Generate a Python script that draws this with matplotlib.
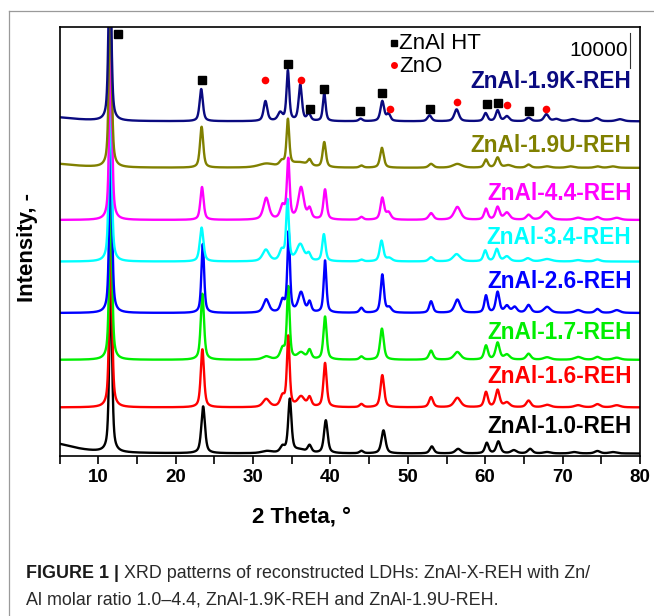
import numpy as np
import matplotlib
matplotlib.use("Agg")
import matplotlib.pyplot as plt
from matplotlib.lines import Line2D

plt.rcParams['font.family'] = ['Liberation Sans', 'DejaVu Sans']

# ---------------- data (2theta in degrees, intensities in kcounts) ----------------
two_theta_range = (5, 80)

# peaks: (2theta, height [kcounts], FWHM [deg]); the (003) peak near 11.6 deg is off scale
peaks_10 = [(3.0, 3.4, 8.0), (11.6, 50, 0.42), (23.55, 13.4, 0.56), (31.8, 0.6, 1.6), (33.8, 1.7, 0.7),
            (34.75, 15.2, 0.5), (36.0, 0.9, 2.0), (37.3, 2.0, 0.56), (39.4, 9.4, 0.56), (44.0, 0.7, 0.56),
            (46.85, 6.6, 0.62), (53.1, 2.0, 0.62), (56.5, 1.3, 0.85), (60.2, 3.0, 0.56), (61.7, 3.4, 0.62),
            (63.7, 0.9, 0.85), (65.8, 1.3, 0.7), (68.0, 0.4, 1.1), (71.5, 0.4, 1.1), (74.5, 0.7, 0.85),
            (76.5, 0.4, 1.1)]
peaks_16 = [(11.6, 50, 0.42), (23.45, 16.6, 0.5), (31.7, 2.3, 1.0), (33.8, 2.9, 0.7), (34.55, 20.0, 0.42),
            (36.2, 2.9, 1.1), (37.3, 2.6, 0.56), (39.3, 12.6, 0.5), (44.0, 0.9, 0.56), (46.7, 9.2, 0.56),
            (53.0, 2.9, 0.62), (56.4, 2.7, 1.0), (60.1, 4.3, 0.56), (61.6, 4.9, 0.62), (62.8, 1.3, 0.85),
            (65.6, 1.9, 0.7), (68.0, 0.7, 1.1), (72.0, 0.6, 1.1), (74.5, 0.9, 0.85), (77.0, 0.6, 1.1)]
peaks_17 = [(11.6, 50, 0.42), (23.45, 18.9, 0.5), (31.7, 0.9, 1.1), (33.8, 2.9, 0.7), (34.55, 20.6, 0.42),
            (36.2, 1.9, 1.1), (37.3, 2.6, 0.56), (39.3, 12.3, 0.5), (44.0, 0.9, 0.56), (46.65, 8.9, 0.56),
            (53.0, 2.6, 0.62), (56.4, 2.2, 1.0), (60.1, 4.0, 0.56), (61.6, 4.8, 0.62), (62.8, 1.4, 0.85),
            (65.6, 1.7, 0.7), (68.0, 0.7, 1.1), (72.0, 0.8, 1.1), (74.5, 0.8, 0.85), (77.0, 0.6, 1.1)]
peaks_26 = [(11.6, 50, 0.42), (23.5, 19.7, 0.42), (31.7, 3.8, 0.85), (33.8, 3.3, 0.62), (34.6, 22.9, 0.4),
            (36.2, 5.7, 0.85), (37.3, 2.9, 0.5), (39.3, 14.9, 0.42), (44.0, 1.4, 0.56), (46.7, 10.9, 0.5),
            (47.6, 1.4, 0.7), (53.0, 3.3, 0.56), (56.4, 3.8, 0.85), (60.1, 4.9, 0.5), (61.6, 5.9, 0.56),
            (62.8, 1.9, 0.7), (63.8, 1.6, 0.7), (65.6, 2.2, 0.7), (68.0, 1.7, 1.0), (72.0, 0.8, 1.0),
            (74.5, 1.1, 0.7), (77.0, 0.8, 1.0)]
peaks_34 = [(11.55, 50, 0.42), (23.35, 9.7, 0.56), (31.65, 3.3, 1.0), (33.7, 2.9, 0.7), (34.45, 17.2, 0.42),
            (36.1, 4.8, 1.1), (37.2, 1.9, 0.56), (39.15, 7.7, 0.5), (44.0, 0.5, 0.56), (46.6, 5.9, 0.56),
            (47.6, 0.9, 0.85), (53.0, 1.2, 0.7), (56.3, 2.1, 1.1), (60.0, 3.1, 0.56), (61.5, 3.5, 0.62),
            (62.8, 1.4, 0.85), (65.5, 0.9, 0.85), (68.0, 0.7, 1.4), (72.0, 0.4, 1.1), (74.5, 0.6, 0.85)]
peaks_44 = [(11.6, 50, 0.42), (23.4, 9.4, 0.5), (31.7, 6.2, 0.85), (33.8, 3.7, 0.7), (34.55, 16.9, 0.42),
            (36.2, 9.1, 0.85), (37.3, 2.9, 0.56), (39.3, 8.6, 0.5), (44.0, 0.8, 0.56), (46.7, 6.2, 0.56),
            (47.5, 2.0, 0.7), (53.0, 1.9, 0.7), (56.4, 3.7, 1.0), (60.1, 3.1, 0.56), (61.6, 3.6, 0.62),
            (62.8, 2.0, 0.85), (65.6, 1.4, 0.7), (67.9, 2.4, 1.1), (72.0, 0.6, 1.1), (74.5, 0.8, 0.85),
            (77.0, 0.6, 1.1)]
peaks_19u = [(3.0, 1.4, 8.0), (11.55, 50, 0.42), (23.35, 11.7, 0.5), (31.7, 1.1, 2.4), (33.7, 1.4, 0.7),
             (34.5, 13.2, 0.42), (36.0, 1.4, 2.6), (37.3, 1.7, 0.56), (39.2, 7.2, 0.5), (44.0, 0.6, 0.56),
             (46.65, 5.7, 0.56), (53.0, 1.1, 0.7), (56.4, 1.1, 1.4), (60.1, 2.3, 0.56), (61.6, 2.9, 0.62),
             (63.0, 0.7, 1.1), (65.6, 0.9, 0.7), (68.0, 0.4, 1.1), (71.0, 0.4, 1.1), (74.5, 0.4, 0.85),
             (76.5, 0.4, 1.1)]
peaks_19k = [(3.0, 1.4, 8.0), (11.5, 50, 0.42), (23.3, 9.2, 0.5), (31.6, 5.7, 0.56), (33.5, 2.3, 0.7),
             (34.5, 14.3, 0.42), (36.1, 10.3, 0.5), (37.2, 2.0, 0.56), (39.2, 8.0, 0.42), (43.9, 0.7, 0.56),
             (46.7, 5.7, 0.56), (47.5, 2.0, 0.56), (52.8, 1.7, 0.62), (56.3, 3.4, 0.7), (60.05, 2.3, 0.56),
             (61.6, 3.1, 0.56), (62.8, 1.4, 0.7), (65.6, 1.0, 0.7), (67.9, 2.0, 0.7), (69.2, 0.6, 0.85),
             (71.3, 0.6, 1.1), (74.4, 0.9, 0.85), (77.4, 0.6, 1.1)]

sample_names = ["ZnAl-1.0-REH", "ZnAl-1.6-REH", "ZnAl-1.7-REH", "ZnAl-2.6-REH",
                "ZnAl-3.4-REH", "ZnAl-4.4-REH", "ZnAl-1.9U-REH", "ZnAl-1.9K-REH"]
sample_peaks = [peaks_10, peaks_16, peaks_17, peaks_26, peaks_34, peaks_44, peaks_19u, peaks_19k]
stack_offsets = [0.7, 13.9, 27.5, 40.9, 55.6, 67.5, 82.4, 95.7]
label_y = [8.3, 22.6, 35.4, 50.0, 62.6, 75.1, 88.9, 107.2]

# phase markers on the ZnAl-1.9K-REH pattern
ht_marks_x = [12.5, 23.4, 34.47, 37.3, 39.2, 43.8, 46.7, 52.8, 60.2, 61.6, 65.6]
ht_marks_y = [120.8, 107.6, 112.2, 99.1, 104.9, 98.6, 103.9, 99.3, 100.8, 100.9, 98.7]
zno_marks_x = [31.6, 36.2, 47.7, 56.3, 62.8, 67.9]
zno_marks_y = [107.6, 107.6, 99.1, 101.1, 100.3, 99.1]

scale_bar_counts = 10000

colors = ["#000000", "#ff0000", "#00ee00", "#0000ff", "#00ffff", "#ff00ff", "#808000", "#0a0a80"]


def pseudo_voigt(x, c, h, w, eta=0.6):
    d = (x - c) / w
    return h * (eta / (1 + 4 * d ** 2) + (1 - eta) * np.exp(-4 * np.log(2) * d ** 2))


W, H = 654, 616
fig = plt.figure(figsize=(W / 100, H / 100), dpi=100)
ax = fig.add_axes([59.6 / W, 1 - 456 / H, (640 - 59.6) / W, (456 - 27.3) / H])

x = np.arange(two_theta_range[0], two_theta_range[1] + 1e-9, 0.02)
for name, pk, off, ly, col in zip(sample_names, sample_peaks, stack_offsets, label_y, colors):
    y = np.full_like(x, off)
    for c, h, w in pk:
        y += pseudo_voigt(x, c, h, w)
    ax.plot(x, y, color=col, lw=1.7)
    ax.text(78.9, ly, name, color=col, ha='right', va='center', fontsize=16.3, fontweight='bold')

ax.plot(ht_marks_x, ht_marks_y, 's', color='black', ms=5.5, ls='none')
ax.plot(zno_marks_x, zno_marks_y, 'o', color='red', ms=5.5, ls='none', mec='none')

# legend
ax.plot([48.2], [118.1], 's', color='black', ms=5)
ax.plot([48.2], [111.7], 'o', color='red', ms=5, mec='none')
ax.text(48.9, 118.1, "ZnAl HT", fontsize=16, va='center', ha='left')
ax.text(48.9, 111.5, "ZnO", fontsize=16, va='center', ha='left')

# scale bar
ax.plot([78.7, 78.7], [110.9, 110.9 + scale_bar_counts / 1000], color='#333333', lw=0.8)
ax.text(78.4, 116.0, f"{scale_bar_counts}", fontsize=15, ha='right', va='center')

ax.set_xlim(*two_theta_range)
ax.set_ylim(0, 122.6)
ax.set_xticks(np.arange(10, 81, 10))
ax.set_xticks(np.arange(5, 81, 5), minor=True)
ax.set_yticks([])
ax.tick_params(axis='x', which='both', direction='out', length=6, width=1.2, pad=3)
for lab in ax.get_xticklabels():
    lab.set_fontsize(13.5)
    lab.set_fontweight('bold')
for s in ax.spines.values():
    s.set_linewidth(1.2)

fig.text(302 / W + 0.0, 1 - 517 / H, "2 Theta, °", fontsize=16, fontweight='bold', ha='center', va='center')
fig.text(28 / W, 1 - 248 / H, "Intensity, -", fontsize=16, fontweight='bold', rotation=90,
         ha='center', va='center')

# outer frame lines
fig.add_artist(Line2D([9 / W, 1], [1 - 11 / H, 1 - 11 / H], color='#9a9a9a', lw=0.9))
fig.add_artist(Line2D([9 / W, 9 / W], [1 - 11 / H, 0], color='#9a9a9a', lw=0.9))

# caption
fig.canvas.draw()
r = fig.canvas.get_renderer()
cap_fs = 12.9
t1 = fig.text(26 / W, 1 - 574 / H, "FIGURE 1 | ", fontsize=cap_fs, fontweight='bold', va='center', ha='left',
              color='#1a1a1a')
bb = t1.get_window_extent(renderer=r)
fig.text(bb.x1 / W, 1 - 574 / H, "XRD patterns of reconstructed LDHs: ZnAl-X-REH with Zn/", fontsize=cap_fs,
         va='center', ha='left', color='#2a2a2a')
fig.text(26 / W, 1 - 600 / H, "Al molar ratio 1.0–4.4, ZnAl-1.9K-REH and ZnAl-1.9U-REH.", fontsize=cap_fs,
         va='center', ha='left', color='#2a2a2a')

fig.savefig("out.png", dpi=100)
